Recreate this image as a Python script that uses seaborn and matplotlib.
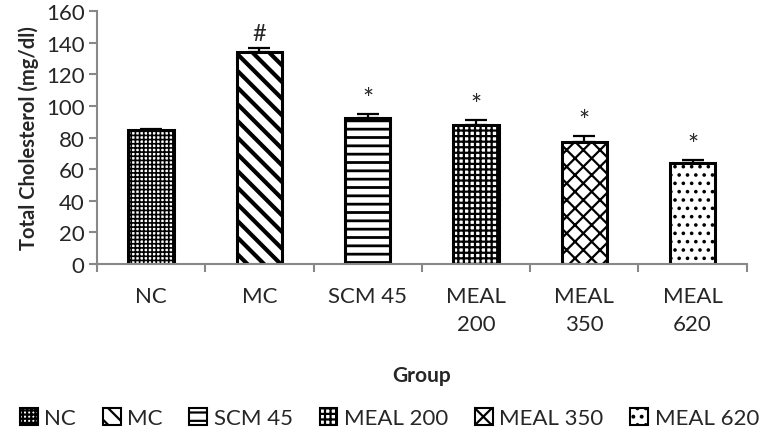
import matplotlib
matplotlib.use("Agg")
import matplotlib.pyplot as plt
import seaborn as sns
import pandas as pd
import numpy as np
from matplotlib.patches import Patch

groups = ["NC", "MC", "SCM 45", "MEAL 200", "MEAL 350", "MEAL 620"]
tick_labels = ["NC", "MC", "SCM 45", "MEAL\n200", "MEAL\n350", "MEAL\n620"]
values = [85, 134, 92.5, 88, 77, 64]
errors = [0.6, 2.5, 2.5, 3.0, 3.8, 2.0]
marks = ["", "#", "*", "*", "*", "*"]
hatches = ["++++", "\\\\", "--", "+++", "xx", ".."]
hatch_widths = [1.2, 3.0, 2.0, 1.6, 1.6, 1.4]

sns.set_style("white")
plt.rcParams['font.family'] = ['Lato', 'DejaVu Sans']
plt.rcParams['hatch.linewidth'] = 1.6

df = pd.DataFrame({"Group": groups, "Value": values})

fig = plt.figure(figsize=(7.79, 4.39), dpi=100)
ax = fig.add_axes([0.1245, 0.396, 0.834, 0.577])
sns.barplot(data=df, x="Group", y="Value", color="white", width=0.42,
            edgecolor="black", linewidth=2.2, errorbar=None, ax=ax)
for p, h, w in zip(ax.patches, hatches, hatch_widths):
    p.set_hatch(h)
    if hasattr(p, "set_hatch_linewidth"):
        p.set_hatch_linewidth(w)
xs = np.arange(len(groups))
ax.errorbar(xs, values, yerr=[np.zeros(len(errors)), errors], fmt="none",
            ecolor="black", elinewidth=1.6, capsize=8, capthick=1.6)
for x, v, e, m in zip(xs, values, errors, marks):
    if m:
        ax.text(x, v + e + 9, m, ha="center", va="center",
                fontsize=17 if m == "#" else 19)

ax.set_ylim(0, 160)
ax.set_xlim(-0.5, len(groups) - 0.5)
ax.set_yticks(range(0, 161, 20))
ax.tick_params(axis="y", labelsize=16, length=6, width=1.5, color="#888",
               direction="out", left=True, pad=3)
ax.set_xticks(xs)
ax.set_xticklabels(tick_labels, fontsize=16, linespacing=1.5)
ax.tick_params(axis="x", length=0, pad=16)
ax.set_xticks(np.arange(-0.5, len(groups), 1), minor=True)
ax.tick_params(axis="x", which="minor", length=6, width=1.5, color="#888", bottom=True)
for s in ["top", "right"]:
    ax.spines[s].set_visible(False)
for s in ["left", "bottom"]:
    ax.spines[s].set_color("#888")
    ax.spines[s].set_linewidth(1.5)
ax.set_ylabel("Total Cholesterol (mg/dl)", fontsize=14.5, fontweight="bold", labelpad=5)
ax.set_xlabel("Group", fontsize=15, fontweight="bold", labelpad=22)

handles = [Patch(facecolor="white", edgecolor="black", hatch=h, linewidth=1.5) for h in hatches]
fig.legend(handles, groups, loc="center", bbox_to_anchor=(0.5, 0.045), ncol=6, frameon=False,
           fontsize=16, handlelength=0.8, handleheight=0.8, handletextpad=0.3, columnspacing=1.2)

fig.savefig("out.png", dpi=100)
